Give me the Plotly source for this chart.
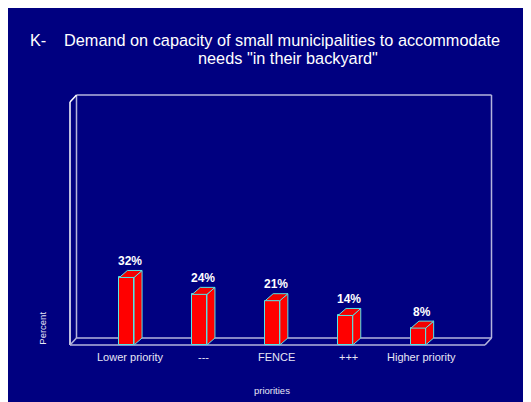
import plotly.graph_objects as go

# ---- data ----
categories = ["Lower priority", "---", "FENCE", "+++", "Higher priority"]
percent = [32, 24, 21, 14, 8]
value_labels = ["32%", "24%", "21%", "14%", "8%"]
title_prefix = "K-"
title_lines = ['Demand on capacity of small municipalities to accommodate', 'needs "in their backyard"']
y_title = "Percent"
x_title = "priorities"

# ---- layout geometry (pixel scale helpers) ----
W, H = 531, 402
PXX, X0 = 72.9, 118.7      # px per category, px of category 0
PXY, Y0 = 2.11, 337.0      # px per percent, px of 0 %


def ux(px):
    return px / PXX


def uy(px):
    return px / PXY


x_range = [-X0 / PXX, (W - X0) / PXX]
y_range = [(Y0 - H) / PXY, Y0 / PXY]

NAVY = "#000080"
RED = "#FF0000"
CYAN = "#55E6E6"
FRAME = "#B4B4DC"
TXT = "#E6E6F5"
FONT = "Liberation Sans, Arial, sans-serif"

bar_w = ux(14.7)
bdx, bdy = ux(8), uy(7)
fdx, fdy = ux(6.5), uy(7)
xl = x_range[0] + ux(62)
xr = x_range[0] + ux(477)
ytop = uy(Y0 - 94)

xs = list(range(len(categories)))

fig = go.Figure()

# front faces
fig.add_trace(go.Bar(x=xs, y=percent, width=bar_w,
                     marker=dict(color=RED, line=dict(color=CYAN, width=1)),
                     hoverinfo="skip", showlegend=False))

# side and top faces
for x, v in zip(xs, percent):
    r = x + bar_w / 2
    l = x - bar_w / 2
    fig.add_trace(go.Scatter(x=[r, r + bdx, r + bdx, r, r], y=[0, bdy, v + bdy, v, 0],
                             mode="lines", fill="toself", fillcolor=RED,
                             line=dict(color=CYAN, width=1), hoverinfo="skip", showlegend=False))
    fig.add_trace(go.Scatter(x=[l, r, r + bdx, l + bdx, l], y=[v, v, v + bdy, v + bdy, v],
                             mode="lines", fill="toself", fillcolor="#F20000",
                             line=dict(color=CYAN, width=1), hoverinfo="skip", showlegend=False))

shapes = []


def seg(x0, y0, x1, y1, color=FRAME, width=1.5):
    shapes.append(dict(type="line", xref="x", yref="y", x0=x0, y0=y0, x1=x1, y1=y1,
                       line=dict(color=color, width=width), layer="below"))


# back wall
seg(xl + fdx, fdy, xl + fdx, ytop + fdy)
seg(xl + fdx, ytop + fdy, xr + fdx, ytop + fdy)
seg(xr + fdx, ytop + fdy, xr + fdx, fdy)
seg(xl + fdx, fdy, xr + fdx, fdy)
# front edges
seg(xl, 0, xl, ytop, color="#FFFFFF")
seg(xl, ytop, xl + fdx, ytop + fdy, color="#FFFFFF")
seg(xl, 0, xr, 0)
seg(xl, 0, xl + fdx, fdy)
seg(xr, 0, xr + fdx, fdy)

annotations = []
# value labels
for x, v, t in zip(xs, percent, value_labels):
    annotations.append(dict(x=x, y=v, xref="x", yref="y", text=t, showarrow=False,
                            xshift=3.5, yshift=16.5, xanchor="center", yanchor="middle",
                            font=dict(family=FONT, size=12, color="#FFFFFF", weight="bold")))
# category tick labels
for x, c in zip(xs, categories):
    annotations.append(dict(x=x, y=0, xref="x", yref="y", text=c, showarrow=False,
                            xshift=3.5, yshift=-12, xanchor="center", yanchor="middle",
                            font=dict(family=FONT, size=11, color=TXT)))


def pa(px_x, px_y, text, size, color=TXT, angle=0, xanchor="center"):
    annotations.append(dict(x=px_x / W, y=1 - px_y / H, xref="paper", yref="paper", text=text,
                            textangle=angle, showarrow=False, xanchor=xanchor, yanchor="middle",
                            font=dict(family=FONT, size=size, color=color)))


# axis titles
pa(33.7, 320, y_title, 9.5, angle=-90)
pa(263.7, 382, x_title, 9.5)
# title
pa(20, 32, title_prefix, 16.3, color="#FFFFFF", xanchor="left")
pa(273.5, 32, title_lines[0], 16.3, color="#FFFFFF")
pa(280, 50, title_lines[1], 16.3, color="#FFFFFF")

fig.update_layout(
    width=W, height=H, autosize=False,
    margin=dict(l=0, r=0, t=0, b=0, pad=0),
    paper_bgcolor=NAVY, plot_bgcolor=NAVY,
    xaxis=dict(range=x_range, visible=False, fixedrange=True),
    yaxis=dict(range=y_range, visible=False, fixedrange=True),
    shapes=shapes, annotations=annotations,
    bargap=0, showlegend=False,
)

fig.write_html("out.html", config={"displayModeBar": False},
               post_script="document.documentElement.style.overflow='hidden';"
                           "document.body.style.overflow='hidden';")
